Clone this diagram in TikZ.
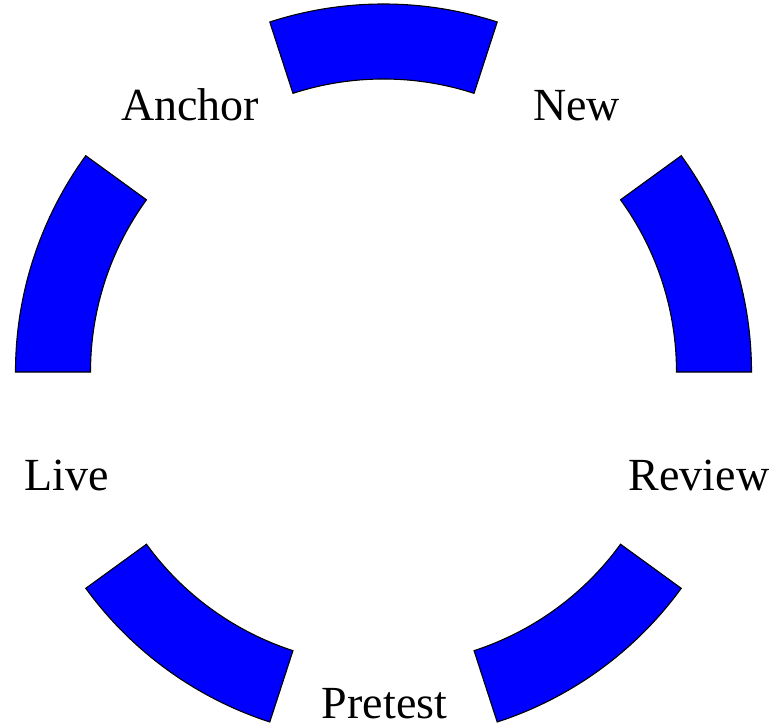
\documentclass[tikz,border=0pt]{standalone}
\usepackage{fontspec}
\setmainfont{Liberation Serif}
\begin{document}
\begin{tikzpicture}[
  seg/.style={draw=black, fill=blue, line width=1.1pt, line join=miter},
  lbl/.style={anchor=base, inner sep=0pt, font=\fontsize{46}{55}\selectfont}
]
\useasboundingbox (-383.5pt,-354pt) rectangle (390.5pt,372pt);
\foreach \c in {90,162,234,306,18}{
  \draw[seg] (\c-18:293pt) -- (\c-18:368pt)
    arc[start angle=\c-18, end angle=\c+18, radius=368pt]
    -- (\c+18:293pt)
    arc[start angle=\c+18, end angle=\c-18, radius=293pt] -- cycle;
}
\node[lbl] (anchor) at (-193.5pt,251pt) {Anchor};
\node[lbl] (new) at (193pt,251pt) {New};
\node[lbl] (review) at (315.5pt,-118.7pt) {Review};
\node[lbl] (live) at (-316.5pt,-118.7pt) {Live};
\node[lbl] (pretest) at (1pt,-346.8pt) {Pretest};
\end{tikzpicture}
\end{document}
